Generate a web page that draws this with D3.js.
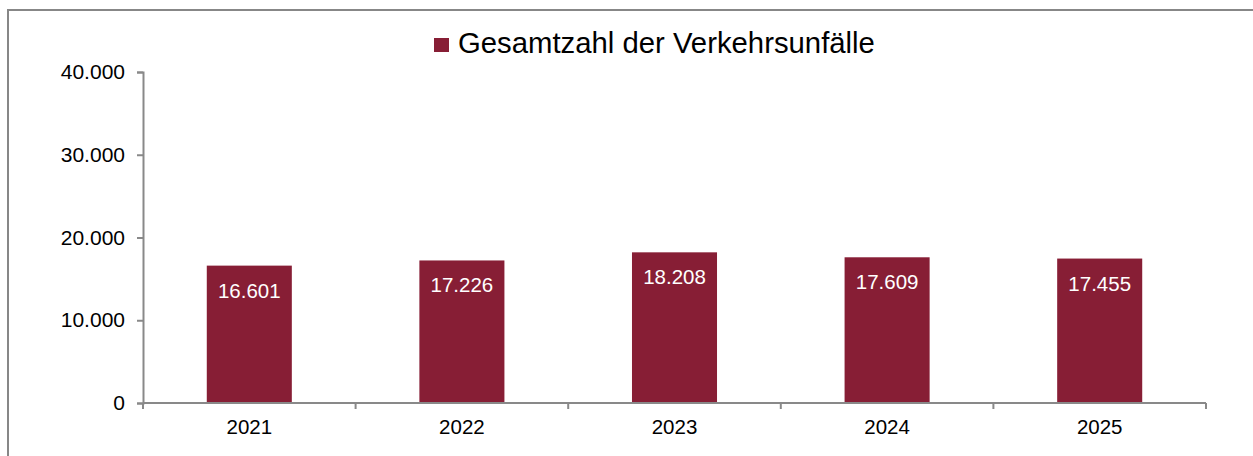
<!DOCTYPE html>
<html>
<head>
<meta charset="utf-8">
<script src="https://cdn.jsdelivr.net/npm/d3@7"></script>
<style>
  body { margin: 0; background: #fff; }
  svg { display: block; font-family: "Liberation Sans", Arial, sans-serif; }
</style>
</head>
<body>
<svg id="chart"></svg>
<script>
// Chart data
const years = ['2021', '2022', '2023', '2024', '2025'];
const accidents = [16601, 17226, 18208, 17609, 17455];
const yTicks = [0, 10000, 20000, 30000, 40000];
const seriesName = 'Gesamtzahl der Verkehrsunfälle';

document.addEventListener('DOMContentLoaded', () => {
  const width = 1253;
  const height = 456;
  const barColor = '#871e35';
  const axisColor = '#898989';

  // Plot area
  const margin = { top: 72, right: 47, bottom: 53, left: 143 };
  const plotW = width - margin.left - margin.right;
  const plotH = height - margin.top - margin.bottom;

  const svg = d3.select('#chart')
    .attr('width', width)
    .attr('height', height);

  // Outer frame (only top and left edge visible)
  svg.append('path')
    .attr('d', `M8,${height} V10 H${width}`)
    .attr('fill', 'none')
    .attr('stroke', '#878787')
    .attr('stroke-width', 2);

  const x = d3.scaleBand()
    .domain(years)
    .range([0, plotW])
    .paddingInner(0.6)
    .paddingOuter(0.3);

  const y = d3.scaleLinear()
    .domain([0, 40000])
    .range([plotH, 0]);

  const fmt = (v) => d3.format(',')(v).replace(/,/g, '.');

  const g = svg.append('g')
    .attr('transform', `translate(${margin.left},${margin.top})`);

  // Bars
  g.selectAll('rect.bar')
    .data(accidents)
    .join('rect')
    .attr('class', 'bar')
    .attr('x', (d, i) => x(years[i]))
    .attr('y', (d) => y(d))
    .attr('width', x.bandwidth())
    .attr('height', (d) => plotH - y(d))
    .attr('fill', barColor);

  // Value labels inside bars
  g.selectAll('text.val')
    .data(accidents)
    .join('text')
    .attr('class', 'val')
    .attr('x', (d, i) => x(years[i]) + x.bandwidth() / 2)
    .attr('y', (d) => y(d) + 32)
    .attr('text-anchor', 'middle')
    .attr('fill', '#fff')
    .attr('font-size', 20.5)
    .text(fmt);

  // Y axis
  const yAxis = g.append('g')
    .call(d3.axisLeft(y).tickValues(yTicks).tickFormat(fmt).tickSizeOuter(0).tickSize(6).tickPadding(12));
  yAxis.select('.domain').attr('stroke', axisColor).attr('stroke-width', 2);
  yAxis.selectAll('.tick line').attr('stroke', axisColor).attr('stroke-width', 2);
  yAxis.selectAll('.tick text')
    .attr('fill', '#000')
    .attr('font-size', 21)
    .attr('font-family', '"Liberation Sans", Arial, sans-serif');

  // X axis with ticks on category boundaries
  const xAxisG = g.append('g').attr('transform', `translate(0,${plotH})`);
  xAxisG.append('line')
    .attr('x1', 0).attr('x2', plotW)
    .attr('stroke', axisColor).attr('stroke-width', 2);
  const bounds = d3.range(years.length + 1).map((i) => i * plotW / years.length);
  xAxisG.selectAll('line.tk')
    .data(bounds)
    .join('line')
    .attr('class', 'tk')
    .attr('x1', (d) => d).attr('x2', (d) => d)
    .attr('y1', 0).attr('y2', 6)
    .attr('stroke', axisColor).attr('stroke-width', 2);
  xAxisG.selectAll('text')
    .data(years)
    .join('text')
    .attr('x', (d) => x(d) + x.bandwidth() / 2)
    .attr('y', 31)
    .attr('text-anchor', 'middle')
    .attr('font-size', 20.5)
    .attr('fill', '#000')
    .text((d) => d);

  // Legend
  const legend = svg.append('g').attr('transform', 'translate(434,38)');
  legend.append('rect')
    .attr('width', 15).attr('height', 14)
    .attr('fill', barColor);
  legend.append('text')
    .attr('x', 24)
    .attr('y', 15)
    .attr('font-size', 29.3)
    .attr('fill', '#000')
    .text(seriesName);
});
</script>
</body>
</html>
